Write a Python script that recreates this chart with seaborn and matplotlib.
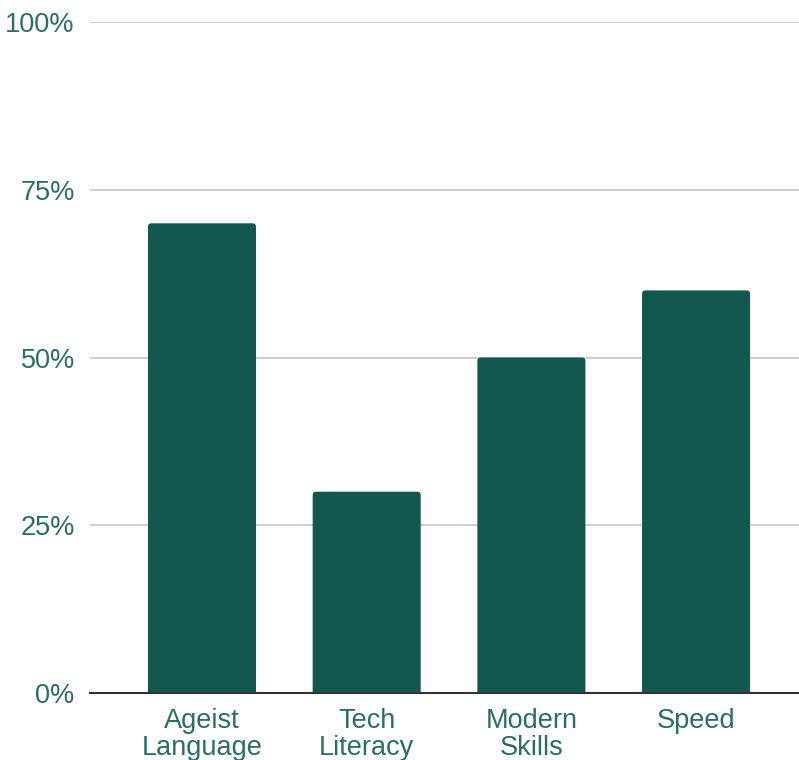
import matplotlib
matplotlib.use("Agg")
import matplotlib.pyplot as plt
import seaborn as sns
import pandas as pd
from matplotlib.patches import FancyBboxPatch
from matplotlib.ticker import FixedLocator

categories = ["Ageist\nLanguage", "Tech\nLiteracy", "Modern\nSkills", "Speed"]
values = [0.70, 0.30, 0.50, 0.60]
ytick_vals = [0, 0.25, 0.5, 0.75, 1.0]
ytick_labels = ["0%", "25%", "50%", "75%", "100%"]

bar_color = "#13584f"
text_color = "#2a6e66"

sns.set_theme(style="white")
plt.rcParams['font.family'] = ['Liberation Sans', 'DejaVu Sans']

df = pd.DataFrame({"cat": categories, "val": values})

fig = plt.figure(figsize=(7.99, 7.60), dpi=100)
ax = fig.add_axes([90/799, 67/760, 709/799, 671/760])

sns.barplot(data=df, x="cat", y="val", color=bar_color, saturation=1, width=0.656, ax=ax, zorder=3)

# rounded corners
px_x = 164.7
px_y = 671.0
for p in list(ax.patches):
    x, y = p.get_x(), p.get_y()
    w, h = p.get_width(), p.get_height()
    p.set_visible(False)
    r = 3.5 / px_x
    fb = FancyBboxPatch((x, y - 0.01), w, h + 0.01,
                        boxstyle=f"round,pad=0,rounding_size={r}",
                        mutation_aspect=px_x / px_y,
                        facecolor=bar_color, edgecolor="none", zorder=3)
    ax.add_patch(fb)

ax.set_xlim(-0.68, 3.625)
ax.set_ylim(0, 1.0)
ax.yaxis.set_major_locator(FixedLocator(ytick_vals))
ax.set_yticklabels(ytick_labels)
ax.set_xlabel("")
ax.set_ylabel("")

for s in ["top", "right", "left"]:
    ax.spines[s].set_visible(False)
ax.spines["bottom"].set_color("#333333")
ax.spines["bottom"].set_linewidth(1.5)
ax.spines["bottom"].set_zorder(5)

ax.grid(axis="y", color="#cccccc", linewidth=1.3, zorder=0)
ax.grid(axis="x", visible=False)
ax.set_axisbelow(True)

ax.tick_params(axis="y", length=0, pad=11, labelsize=19.5, labelcolor=text_color)
ax.tick_params(axis="x", length=0, pad=11, labelsize=19.5, labelcolor=text_color)
for lbl in ax.get_xticklabels():
    lbl.set_linespacing(1.05)

fig.savefig("out.png", dpi=100)
